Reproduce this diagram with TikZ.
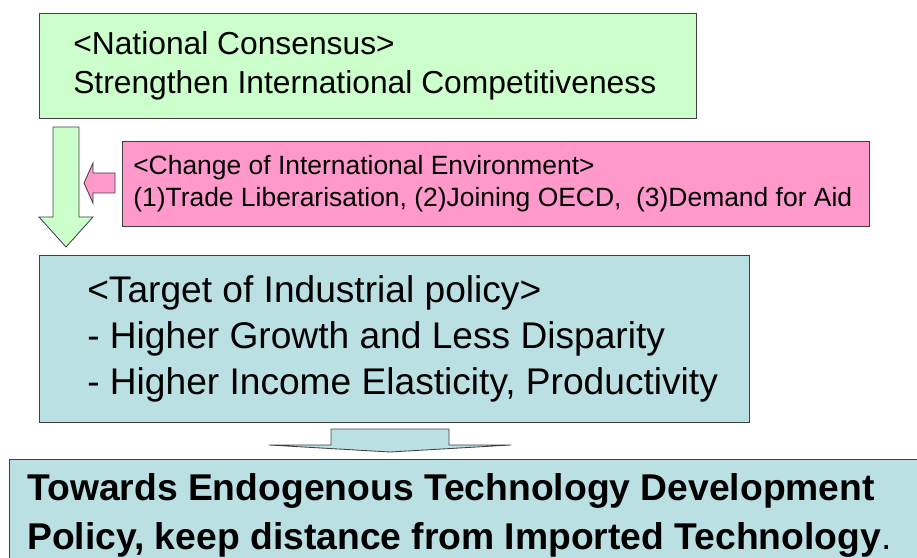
\documentclass[tikz,border=0pt]{standalone}
\usepackage{fontspec}
\setmainfont{Liberation Sans}
\usetikzlibrary{positioning}
\definecolor{consgreen}{RGB}{204,255,204}
\definecolor{envpink}{RGB}{255,153,204}
\definecolor{policyblue}{RGB}{187,224,227}

\begin{document}
\begin{tikzpicture}[x=0.025cm,y=-0.025cm,
    box/.style={draw=black!75, line width=0.6pt, anchor=north west, inner sep=0pt},
    boxtext/.style={anchor=west, inner sep=0pt, align=left},
    blockarrow/.style={draw=black!75, line width=0.6pt, line join=miter}]
  \def\u{0.025cm}   % one px of the sheet
  \useasboundingbox (0,0) rectangle (917,558);
  \clip (0,0) rectangle (917,558);

  % top: national consensus
  \node[box, fill=consgreen, minimum width={657*\u}, minimum height={105*\u}] (consensus) at (39,13) {};
  \node[boxtext, font=\fontsize{22.6}{27.5}\selectfont] (consensustext) at ([xshift={34*\u}]consensus.west)
    {<National Consensus>\\Strengthen International Competitiveness};

  % outside pressure
  \node[box, fill=envpink, minimum width={747*\u}, minimum height={85*\u}] (environment) at (122,141) {};
  \node[boxtext, font=\fontsize{18.8}{22.8}\selectfont] (environmenttext) at ([xshift={11*\u}]environment.west)
    {<Change of International Environment>\\(1)Trade Liberarisation, (2)Joining OECD,\ \ (3)Demand for Aid};

  % industrial policy target
  \node[box, fill=policyblue, minimum width={710*\u}, minimum height={167*\u}] (target) at (39,255) {};
  \node[boxtext, font=\fontsize{26.4}{33}\selectfont] (targettext) at ([xshift={48*\u}]target.west)
    {<Target of Industrial policy>\\- Higher Growth and Less Disparity\\- Higher Income Elasticity, Productivity};

  % conclusion, runs off the sheet
  \node[box, fill=policyblue, minimum width={950*\u}, minimum height={112*\u}] (conclusion) at (9,459) {};
  \node[boxtext, font=\fontsize{26.5}{34.4}\selectfont\bfseries] (conclusiontext) at ([xshift={18*\u}]conclusion.west)
    {Towards Endogenous Technology Development\\Policy, keep distance from Imported Technology{\mdseries .}};

  % block arrows
  \draw[blockarrow, fill=consgreen] (53,127) -- (79,127) -- (79,217) -- (93,217) -- (66,247)
    -- (39,217) -- (53,217) -- cycle;
  \draw[blockarrow, fill=envpink] (115,173) -- (93,173) -- (93,163) -- (84,183) -- (93,203)
    -- (93,193) -- (115,193) -- cycle;
  \draw[blockarrow, fill=policyblue] (331,429) -- (449,429) -- (449,445) -- (511,445) -- (390,452)
    -- (269,445) -- (331,445) -- cycle;
\end{tikzpicture}
\end{document}
